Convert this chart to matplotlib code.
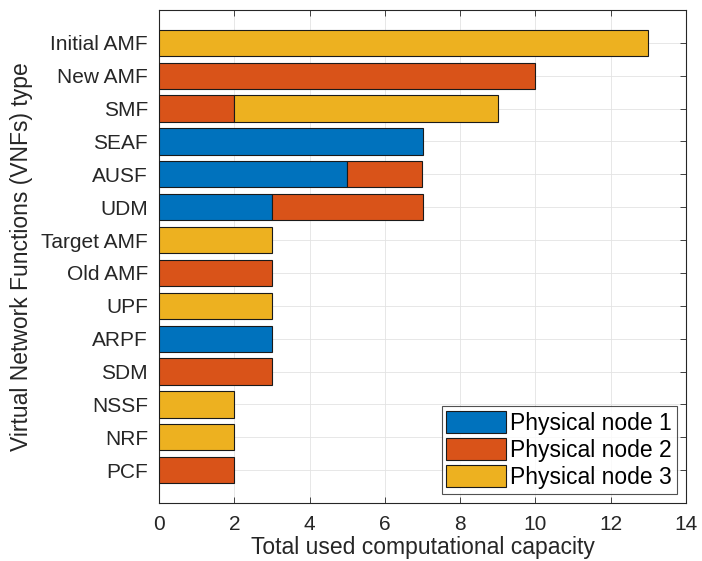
import matplotlib
matplotlib.use('Agg')
import matplotlib.pyplot as plt
import numpy as np

plt.rcParams['font.family'] = ['Liberation Sans', 'DejaVu Sans']

# ==================== 数据 ====================
vnfs = ['Initial AMF', 'New AMF', 'SMF', 'SEAF', 'AUSF', 'UDM', 'Target AMF',
        'Old AMF', 'UPF', 'ARPF', 'SDM', 'NSSF', 'NRF', 'PCF']
node1 = [0, 0, 0, 7, 5, 3, 0, 0, 0, 3, 0, 0, 0, 0]
node2 = [0, 10, 2, 0, 2, 4, 0, 3, 0, 0, 3, 0, 0, 2]
node3 = [13, 0, 7, 0, 0, 0, 3, 0, 3, 0, 0, 2, 2, 0]
series_names = ['Physical node 1', 'Physical node 2', 'Physical node 3']
colors = ['#0072BD', '#D95319', '#EDB120']

# ==================== 绘图 ====================
fig = plt.figure(figsize=(7.02, 5.61), dpi=100)
ax = fig.add_axes([159 / 702, 58 / 561, 527 / 702, 493 / 561])

y = np.arange(len(vnfs), 0, -1)
left = np.zeros(len(vnfs))
for vals, name, c in zip([node1, node2, node3], series_names, colors):
    vals = np.array(vals, dtype=float)
    m = vals > 0  # 零宽度的段不画，避免多出一条黑边
    ax.barh(y[m], vals[m], left=left[m], height=0.8, color=c, edgecolor='#1a1a1a',
            linewidth=0.8, label=name, zorder=3)
    left += vals

ax.set_xlim(0, 14)
ax.set_ylim(0, 15)
ax.set_xticks(np.arange(0, 15, 2))
ax.set_yticks(y)
ax.set_yticklabels(vnfs)
ax.tick_params(axis='both', labelsize=15, colors='#262626', direction='in',
               length=4, width=0.6, top=True, right=True)
ax.tick_params(axis='y', pad=8)
ax.tick_params(axis='x', pad=9)
ax.grid(True, color='#e3e3e3', linewidth=0.6, zorder=0)
ax.set_axisbelow(True)
for s in ax.spines.values():
    s.set_color('#262626')
    s.set_linewidth(0.8)

ax.set_xlabel('Total used computational capacity', fontsize=16.5, color='#262626',
              labelpad=1)
ax.set_ylabel('Virtual Network Functions (VNFs) type', fontsize=16.5, color='#262626',
              labelpad=6)

leg = ax.legend(loc='lower right', fontsize=16.5, frameon=True, fancybox=False,
                edgecolor='#262626', borderpad=0.2, labelspacing=0.15,
                handlelength=2.6, handleheight=1.1, handletextpad=0.2,
                borderaxespad=0.4)
leg.get_frame().set_linewidth(0.8)

plt.savefig('out.png', dpi=100)
plt.close()
